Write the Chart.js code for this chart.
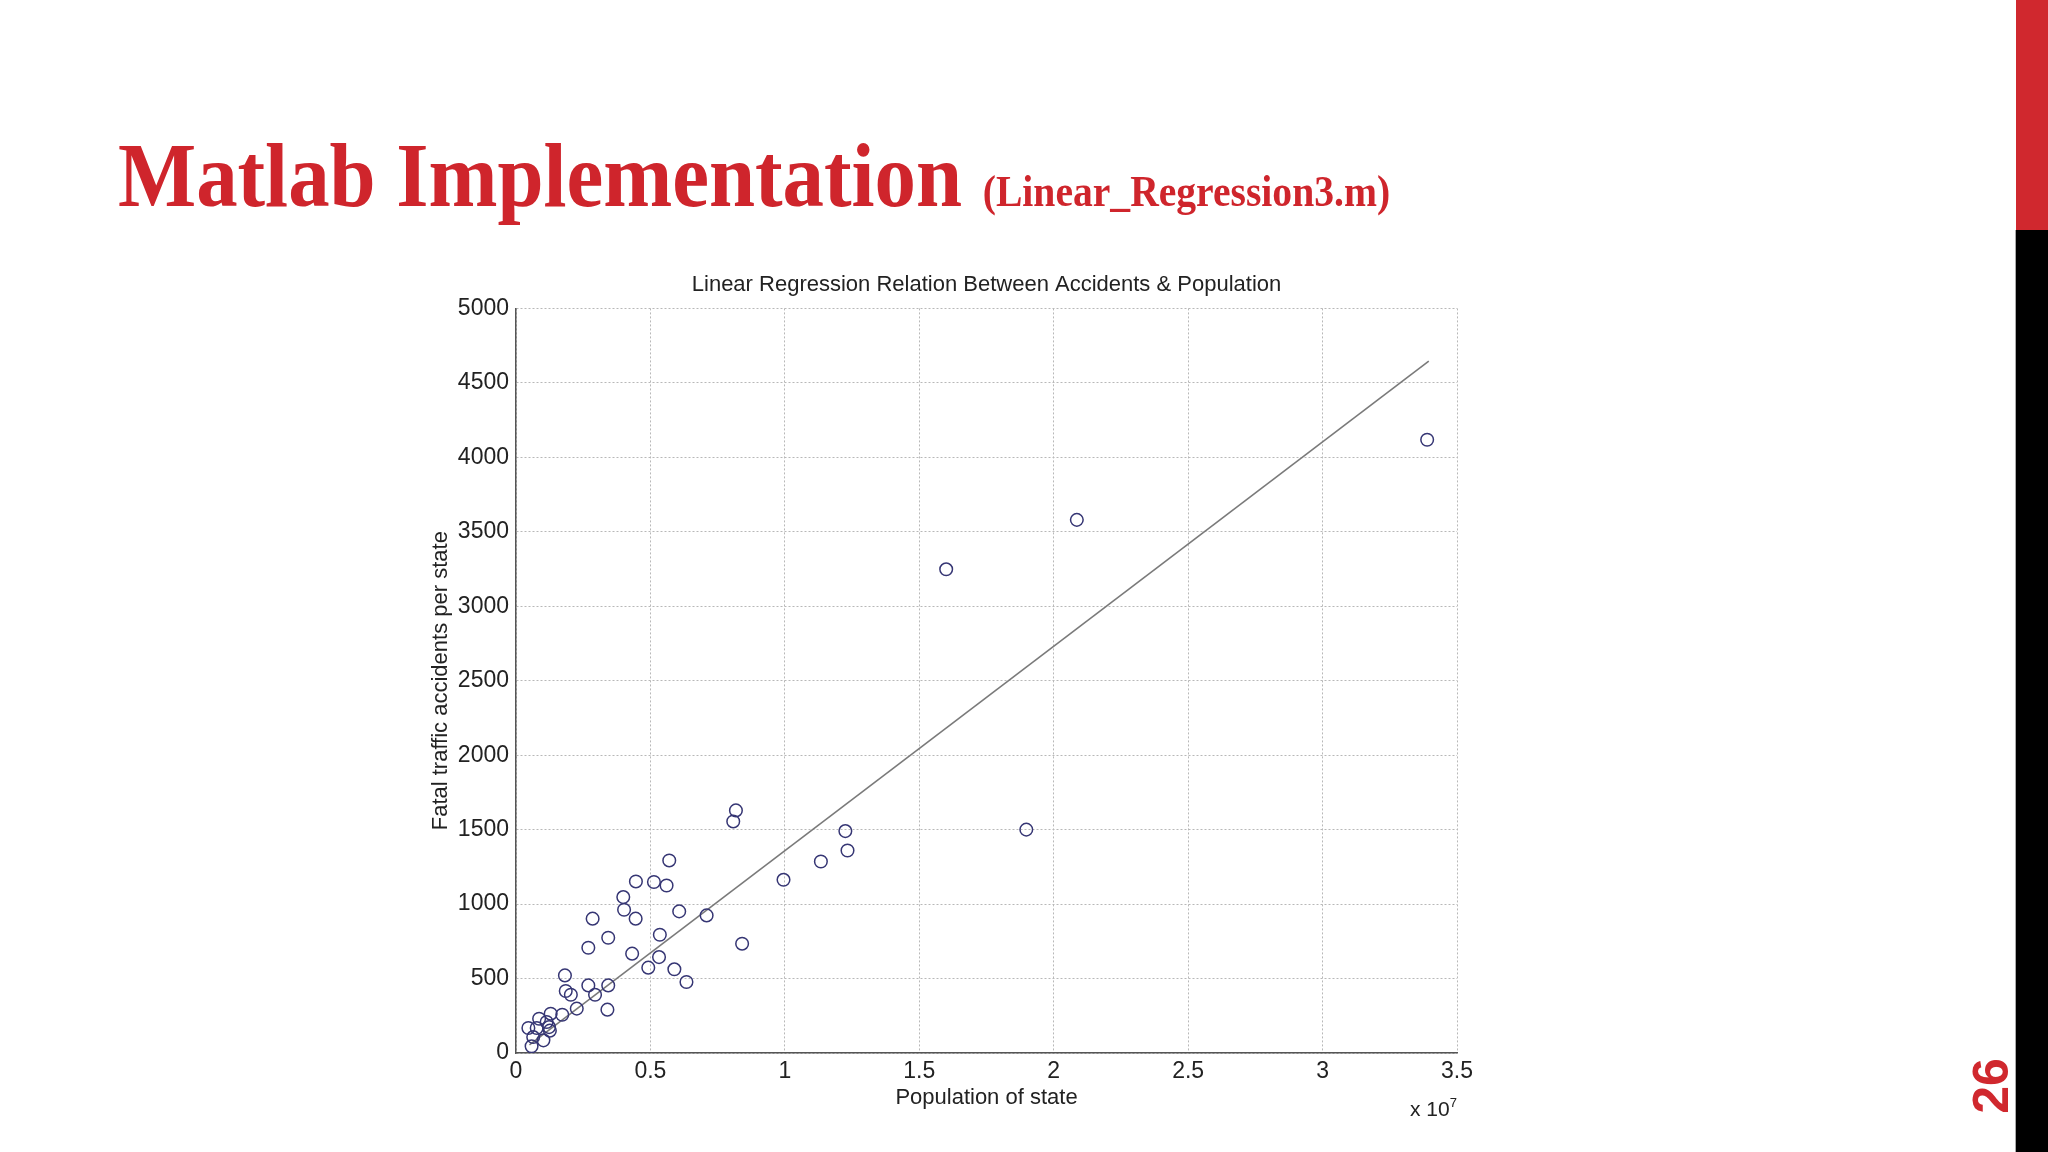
<!DOCTYPE html>
<html>
<head>
<meta charset="utf-8">
<title>Matlab Implementation</title>
<script src="https://cdn.jsdelivr.net/npm/chart.js@4.4.1/dist/chart.umd.min.js"></script>
<style>
  html, body { margin: 0; padding: 0; background: #fff; }
  #slide { position: relative; width: 2048px; height: 1152px; overflow: hidden; background: #fff; }
  #accidentChart { position: absolute; left: 0; top: 0; }
  #heading {
    position: absolute; left: 118px; top: 129px;
    font: bold 92px 'Liberation Serif', 'Times New Roman', serif; line-height: 1;
    color: #cf252c; white-space: nowrap;
    transform: scaleX(0.9); transform-origin: 0 0;
  }
  #heading small { font-size: 44px; }
  #expo { position: absolute; left: 1410px; top: 1095px; font: 21px 'Liberation Sans', Arial, sans-serif; color: #222; }
  #expo sup { font-size: 13px; vertical-align: 9px; }
  #redBar { position: absolute; left: 2016px; top: 0; width: 32px; height: 230px; background: #d0282e; }
  #blackBar { position: absolute; left: 2016px; top: 230px; width: 32px; height: 922px; background: #000; }
  #edge { position: absolute; left: 2015px; top: 230px; width: 1px; height: 922px; background: #aaa; }
  #pageNum {
    position: absolute; left: 1961px; top: 1066px; width: 60px; height: 40px;
    font: bold 50px 'Liberation Sans', Arial, sans-serif; color: #d0282e;
    line-height: 40px; text-align: center; transform: rotate(-90deg);
  }
</style>
</head>
<body>
<div id="slide">
  <canvas id="accidentChart" width="2048" height="1152"></canvas>
  <div id="heading">Matlab Implementation <small>(Linear_Regression3.m)</small></div>
  <div id="expo">x 10<sup>7</sup></div>
  <div id="redBar"></div>
  <div id="edge"></div>
  <div id="blackBar"></div>
  <div id="pageNum">26</div>
</div>
<script>
// population of each state (in units of 10^7) and fatal accidents
const populationE7 = [3.389, 2.086, 1.600, 1.898, 1.225, 1.233, 1.134, 0.995, 0.818, 0.808,
    0.841, 0.709, 0.607, 0.570, 0.560, 0.513, 0.446, 0.399, 0.402, 0.445,
    0.285, 0.343, 0.535, 0.269, 0.432, 0.532, 0.492, 0.589, 0.634, 0.182,
    0.269, 0.343, 0.185, 0.204, 0.294, 0.226, 0.340, 0.172, 0.129, 0.086,
    0.046, 0.064, 0.123, 0.102, 0.058, 0.114, 0.077, 0.126];
const fatalAccidents = [4118, 3580, 3248, 1500, 1490, 1360, 1286, 1163, 1629, 1555,
    734, 924, 951, 1293, 1125, 1148, 1152, 1047, 962, 902,
    902, 774, 794, 707, 667, 644, 573, 562, 477, 521,
    454, 454, 416, 391, 391, 298, 291, 257, 264, 230,
    168, 107, 174, 85, 45, 208, 168, 150];

// regression line end points
const fitX = [0.05, 3.395];
const fitY = [55, 4646];

const xTicks = [0, 0.5, 1, 1.5, 2, 2.5, 3, 3.5];
const yTicks = [0, 500, 1000, 1500, 2000, 2500, 3000, 3500, 4000, 4500, 5000];

const textFont = "'Liberation Sans', Arial, sans-serif";

function initAccidentChart() {
    const ctx = document.getElementById('accidentChart');
    if (!ctx) return;

    new Chart(ctx, {
        type: 'scatter',
        data: {
            datasets: [
                {
                    label: 'States',
                    data: populationE7.map((x, i) => ({ x: x, y: fatalAccidents[i] })),
                    borderColor: '#363674', backgroundColor: 'transparent',
                    borderWidth: 1.5, pointRadius: 6.3, pointStyle: 'circle'
                },
                {
                    label: 'Fit',
                    data: fitX.map((x, i) => ({ x: x, y: fitY[i] })),
                    showLine: true, borderColor: '#7a7a7a', borderWidth: 1.6,
                    pointRadius: 0, fill: false
                }
            ]
        },
        options: {
            responsive: false,
            animation: false,
            layout: { padding: { left: 406, right: 591, top: 272, bottom: 29 } },
            plugins: {
                legend: { display: false },
                tooltip: { enabled: false },
                title: {
                    display: true, fullSize: false,
                    text: 'Linear Regression Relation Between Accidents & Population',
                    color: '#222', font: { family: textFont, size: 22, weight: 'normal' },
                    padding: { top: 0, bottom: 10 }
                }
            },
            scales: {
                x: {
                    type: 'linear', min: 0, max: 3.5,
                    afterBuildTicks: s => { s.ticks = xTicks.map(v => ({ value: v })); },
                    afterFit: s => { s.height = 70; },
                    grid: { color: '#b8b8b8', lineWidth: 1, drawTicks: false },
                    border: { display: true, color: '#555', width: 1.5, dash: [2, 2] },
                    ticks: { color: '#222', font: { family: textFont, size: 23 }, padding: 5, maxRotation: 0,
                             callback: v => String(v) },
                    title: { display: true, text: 'Population of state', color: '#222',
                             font: { family: textFont, size: 22 }, padding: { top: 0, bottom: 12 } }
                },
                y: {
                    min: 0, max: 5000,
                    afterBuildTicks: s => { s.ticks = yTicks.map(v => ({ value: v })); },
                    afterFit: s => { s.width = 110; },
                    grid: { color: '#b8b8b8', lineWidth: 1, drawTicks: false },
                    border: { display: true, color: '#555', width: 1.5, dash: [2, 2] },
                    ticks: { color: '#222', font: { family: textFont, size: 23 }, padding: 7,
                             callback: v => String(v) },
                    title: { display: true, text: 'Fatal traffic accidents per state', color: '#222',
                             font: { family: textFont, size: 22 }, padding: { top: 22, bottom: 0 } }
                }
            }
        }
    });
}

document.addEventListener('DOMContentLoaded', initAccidentChart);
</script>
</body>
</html>
